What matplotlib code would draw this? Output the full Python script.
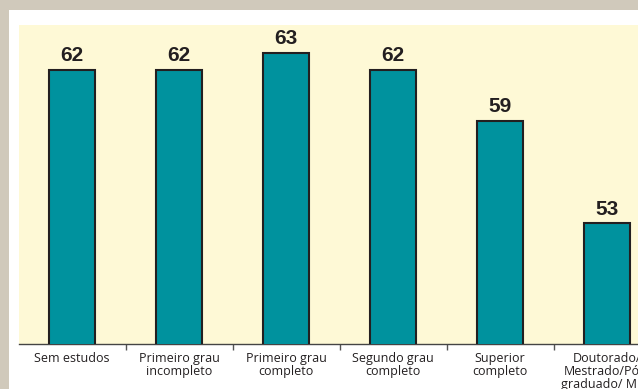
import matplotlib
matplotlib.use("Agg")
import matplotlib.pyplot as plt
from matplotlib.patches import Rectangle
from matplotlib.ticker import FixedLocator

categories = ["Sem estudos", "Primeiro grau\nincompleto", "Primeiro grau\ncompleto",
              "Segundo grau\ncompleto", "Superior\ncompleto",
              "Doutorado/\nMestrado/Pós-\ngraduado/ MBA"]
values = [62, 62, 63, 62, 59, 53]

W, H = 638, 389
fig = plt.figure(figsize=(W / 100, H / 100), dpi=100)
fig.patch.set_facecolor("white")

# frame strips (top band and left edge)
gray = "#d0c9bb"
fig.add_artist(Rectangle((0, 1 - 10 / H), 1, 10 / H, transform=fig.transFigure,
                         facecolor=gray, edgecolor="none", zorder=0))
fig.add_artist(Rectangle((0, 0), 9 / W, 1, transform=fig.transFigure,
                         facecolor=gray, edgecolor="none", zorder=0))

left, top, base = 18.5, 25, 343.5
ax = fig.add_axes([left / W, (H - base) / H, 642 / W, (base - top) / H])
ax.set_facecolor("#fef9d6")

x = list(range(len(values)))
ax.bar(x, values, width=0.43, color="#00929e", edgecolor="#231f20", linewidth=1.5, zorder=3)
for xi, v in zip(x, values):
    ax.text(xi, v + 0.5, str(v), ha="center", va="baseline", fontsize=15,
            fontweight="bold", family="Liberation Sans", color="#231f20")

ax.set_xlim(-0.5, len(values) - 0.5)
ax.set_ylim(45.93, 64.63)
ax.set_yticks([])
ax.set_xticks(x)
ax.set_xticklabels(categories, fontsize=9, family="Open Sans", color="#231f20",
                   linespacing=1.0)
ax.xaxis.set_minor_locator(FixedLocator([i + 0.5 for i in range(len(values))]))
ax.tick_params(axis="x", which="major", length=0, pad=6)
ax.tick_params(axis="x", which="minor", length=4, width=1, color="#555555")
for s in ("top", "right", "left"):
    ax.spines[s].set_visible(False)
ax.spines["bottom"].set_color("#444444")
ax.spines["bottom"].set_linewidth(1)

fig.savefig("out.png", dpi=100)
